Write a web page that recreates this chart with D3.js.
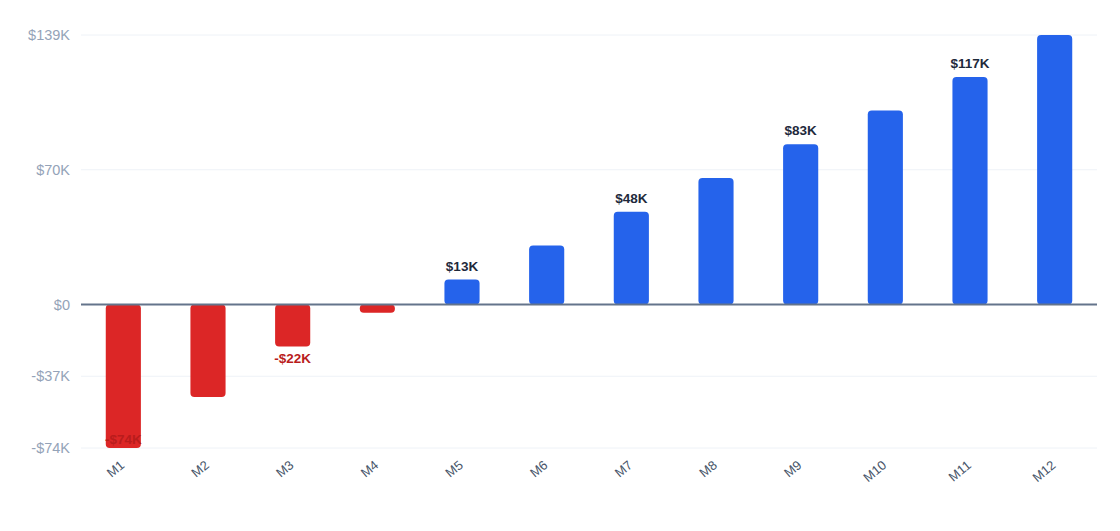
<!DOCTYPE html>
<html>
<head>
<meta charset="utf-8">
<script src="https://cdn.jsdelivr.net/npm/d3@7"></script>
<style>
  body { margin: 0; background: #fff; }
  text { font-family: "Liberation Sans", Arial, Helvetica, sans-serif; }
</style>
</head>
<body>
<div class="chart"></div>
<script>
// chart data
var months = ["M1", "M2", "M3", "M4", "M5", "M6", "M7", "M8", "M9", "M10", "M11", "M12"];
var values = [-74, -47.7, -21.6, -4.2, 12.9, 30.4, 47.8, 65.2, 82.6, 100, 117.4, 139];
var yTicks = [139, 69.5, 0, -37, -74];
var labelMonths = ["M1", "M3", "M5", "M7", "M9", "M11"];

var svgWidth = 1120;
var svgHeight = 531;

var margin = { top: 35, right: 23, bottom: 83, left: 81 };

var width = svgWidth - margin.left - margin.right;
var height = svgHeight - margin.top - margin.bottom;

var svg = d3.select(".chart")
  .append("svg")
  .attr("width", svgWidth)
  .attr("height", svgHeight);

var chartGroup = svg.append("g")
  .attr("transform", `translate(${margin.left}, ${margin.top})`);

var data = months.map((m, i) => ({ month: m, value: values[i] }));

var xBandScale = d3.scaleBand()
  .domain(months)
  .range([0, width])
  .paddingInner(0.585)
  .paddingOuter(0.2925);

var yLinearScale = d3.scaleLinear()
  .domain([d3.min(yTicks), d3.max(yTicks)])
  .range([height, 0]);

function fmt(v) {
  var k = Math.round(Math.abs(v));
  if (k === 0) return "$0";
  return (v < 0 ? "-$" : "$") + k + "K";
}

// gridlines
chartGroup.append("g")
  .selectAll("line")
  .data(yTicks.filter(t => t !== 0))
  .enter()
  .append("line")
  .attr("x1", 0)
  .attr("x2", width)
  .attr("y1", d => yLinearScale(d))
  .attr("y2", d => yLinearScale(d))
  .attr("stroke", "#eef2f7")
  .attr("stroke-width", 1);

// y axis labels
var leftAxis = d3.axisLeft(yLinearScale)
  .tickValues(yTicks)
  .tickFormat(fmt)
  .tickSize(0)
  .tickPadding(11);

var yAxis = chartGroup.append("g")
  .call(leftAxis);
yAxis.select(".domain").remove();
yAxis.selectAll("text")
  .style("font-size", "14.5px")
  .attr("fill", "#94a3b8");

// bars
chartGroup.append("g")
  .selectAll("rect")
  .data(data)
  .enter()
  .append("rect")
  .attr("x", d => xBandScale(d.month))
  .attr("width", xBandScale.bandwidth())
  .attr("y", d => yLinearScale(Math.max(0, d.value)))
  .attr("height", d => Math.abs(yLinearScale(d.value) - yLinearScale(0)))
  .attr("rx", 4)
  .attr("fill", d => d.value < 0 ? "#dc2626" : "#2563eb");

// zero line
chartGroup.append("line")
  .attr("x1", 0)
  .attr("x2", width)
  .attr("y1", yLinearScale(0))
  .attr("y2", yLinearScale(0))
  .attr("stroke", "#64748b")
  .attr("stroke-width", 2);

// value labels
chartGroup.append("g")
  .selectAll("text")
  .data(data.filter(d => labelMonths.includes(d.month)))
  .enter()
  .append("text")
  .attr("x", d => xBandScale(d.month) + xBandScale.bandwidth() / 2)
  .attr("y", d => d.value < 0
    ? Math.min(yLinearScale(d.value) + 17, height - 4)
    : yLinearScale(d.value) - 9)
  .attr("text-anchor", "middle")
  .style("font-size", "13.5px")
  .style("font-weight", "bold")
  .attr("fill", d => d.value < 0 ? "#b91c1c" : "#1e293b")
  .text(d => fmt(d.value));

// x axis
var bottomAxis = d3.axisBottom(xBandScale)
  .tickSize(0);

var xAxis = chartGroup.append("g")
  .attr("transform", `translate(0, ${height})`)
  .call(bottomAxis);
xAxis.select(".domain").remove();
xAxis.selectAll("text")
  .style("font-size", "13px")
  .attr("fill", "#475569")
  .attr("text-anchor", "end")
  .attr("x", 0)
  .attr("y", 0)
  .attr("dy", "0.35em")
  .attr("transform", "translate(-1, 15) rotate(-40)");
</script>
</body>
</html>
